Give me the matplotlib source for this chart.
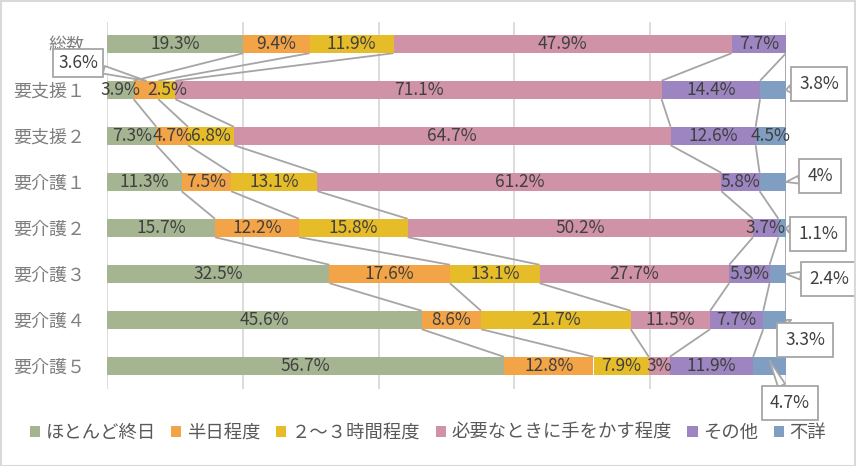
import matplotlib
matplotlib.use("Agg")
import matplotlib.pyplot as plt
from matplotlib.patches import Patch, Rectangle
import numpy as np

plt.rcParams['font.family'] = ['Noto Sans CJK JP', 'DejaVu Sans']

categories = ["総数", "要支援１", "要支援２", "要介護１", "要介護２", "要介護３", "要介護４", "要介護５"]
series_names = ["ほとんど終日", "半日程度", "２～３時間程度", "必要なときに手をかす程度", "その他", "不詳"]
colors = ["#A5B592", "#F3A447", "#E7BC29", "#D092A7", "#9C85C0", "#809EC2"]

hotondo = [19.3, 3.9, 7.3, 11.3, 15.7, 32.5, 45.6, 56.7]
hannichi = [9.4, 3.6, 4.7, 7.5, 12.2, 17.6, 8.6, 12.8]
jikan23 = [11.9, 2.5, 6.8, 13.1, 15.8, 13.1, 21.7, 7.9]
hitsuyou = [47.9, 71.1, 64.7, 61.2, 50.2, 27.7, 11.5, 3.0]
sonota = [7.7, 14.4, 12.6, 5.8, 3.7, 5.9, 7.7, 11.9]
fusho = [0.0, 3.8, 4.5, 4.0, 1.1, 2.4, 3.3, 4.7]

# callouts: (row, series, box center x px, box center y px (from top), tip mode)
callouts = [
    (1, 1, 78, 63, "top"),
    (1, 5, 819, 84, "end"),
    (3, 5, 820, 176, "end"),
    (4, 5, 818, 234, "end"),
    (5, 5, 829, 279, "end"),
    (6, 5, 805, 340, "end"),
    (7, 5, 790, 403, "center"),
]

W, H = 856, 466
fig = plt.figure(figsize=(W / 100, H / 100), dpi=100)
ax = fig.add_axes([107 / W, 1 - 389 / H, 679 / W, 367 / H])

vals = np.array([hotondo, hannichi, jikan23, hitsuyou, sonota, fusho])  # series x rows
norm = vals / vals.sum(axis=0)
cum = np.cumsum(norm, axis=0)
left = cum - norm
n_rows = len(categories)
y = np.arange(n_rows)
bh = 0.40

callout_set = {(r, s) for r, s, *_ in callouts}

for k in range(len(series_names)):
    ax.barh(y, norm[k], left=left[k], height=bh, color=colors[k], label=series_names[k], zorder=3)
    for i in range(n_rows):
        if vals[k, i] <= 0 or (i, k) in callout_set:
            continue
        ax.text(left[k, i] + norm[k, i] / 2, i, f"{vals[k, i]:g}%", ha="center", va="center",
                fontsize=12.5, color="#404040", zorder=5)

# series lines
for k in range(len(series_names)):
    for i in range(n_rows - 1):
        ax.plot([cum[k, i], cum[k, i + 1]], [i + bh / 2, i + 1 - bh / 2], color="#A5A5A5",
                lw=1.3, zorder=2, solid_capstyle="butt")

ax.set_xlim(0, 1)
ax.set_ylim(7.5, -0.478)
ax.set_xticks(np.arange(0, 1.01, 0.2))
ax.set_xticklabels([])
ax.tick_params(axis="x", length=0)
ax.grid(axis="x", color="#D9D9D9", lw=1.3, zorder=0)
ax.set_yticks(y)
ax.set_yticklabels(categories, fontsize=13, color="#7F7F7F")
ax.tick_params(axis="y", length=0, pad=16)
for sp in ax.spines.values():
    sp.set_visible(False)

for r, s, bx, by, mode in callouts:
    if mode == "end":
        tip = (cum[s, r], r)
    elif mode == "center":
        tip = (left[s, r] + norm[s, r] / 2, r - 0.12)
    else:
        tip = (left[s, r] + norm[s, r] / 2, r - bh / 2)
    pad = 0.3 if mode == "top" else 0.45
    ax.annotate(f"{vals[s, r]:g}%", xy=tip, xycoords="data", xytext=(bx, H - by),
                textcoords="figure pixels", ha="center", va="center", fontsize=12.5,
                color="#404040", annotation_clip=False, zorder=6,
                bbox=dict(boxstyle=f"square,pad={pad}", fc="white", ec="#A6A6A6", lw=1.3),
                arrowprops=dict(arrowstyle="wedge,tail_width=0.45,shrink_factor=0.5",
                                fc="white", ec="#A6A6A6", lw=1.3, shrinkA=0, shrinkB=0))

handles = [Patch(facecolor=c, edgecolor="none", label=n) for c, n in zip(colors, series_names)]
leg = fig.legend(handles=handles, loc="center", bbox_to_anchor=(0.5, 1 - 433 / H), ncol=6,
                 frameon=False, fontsize=13.2, handlelength=0.55, handleheight=0.55,
                 handletextpad=0.3, columnspacing=0.85)
for t in leg.get_texts():
    t.set_color("#595959")

fig.patches.append(Rectangle((0.5 / W, 0.5 / H), 1 - 1.5 / W, 1 - 1.5 / H, transform=fig.transFigure,
                             fill=False, ec="#D9D9D9", lw=1.5))

fig.savefig("out.png", dpi=100, facecolor="white")
